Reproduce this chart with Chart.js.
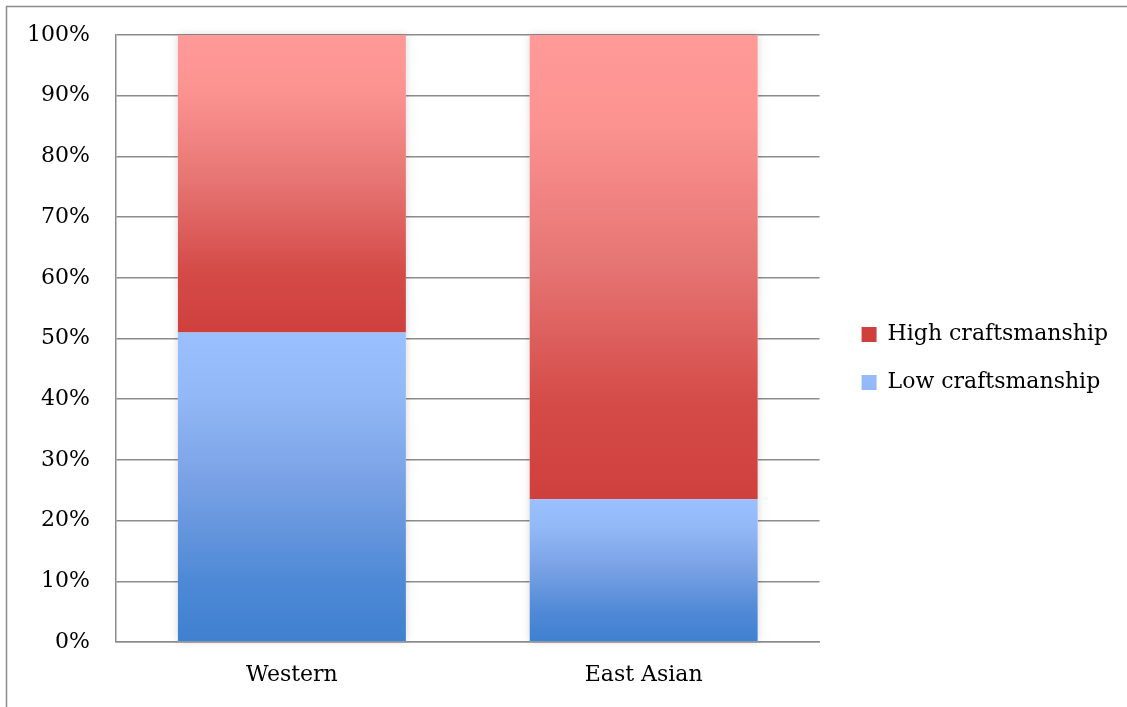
<!DOCTYPE html>
<html>
<head>
<meta charset="utf-8">
<script src="https://cdn.jsdelivr.net/npm/chart.js@4.4.0/dist/chart.umd.min.js"></script>
<style>
  html, body { margin: 0; padding: 0; background: #fff; }
  #wrap { width: 1127px; height: 707px; }
</style>
</head>
<body>
<div id="wrap"><canvas id="chart" width="1127" height="707"></canvas></div>
<script>
// data (percent of each group)
const categories = ["Western", "East Asian"];
const lowCraft = [51, 23.5];
const highCraft = [49, 76.5];
const seriesNames = ["Low craftsmanship", "High craftsmanship"];

const lowStops = [[0, "#9ac0ff"], [0.2, "#93b8f6"], [0.5, "#77a0e4"], [0.8, "#4e89d6"], [1, "#3f80cf"]];
const highStops = [[0, "#ff9a98"], [0.2, "#fb9290"], [0.5, "#e57472"], [0.8, "#d44a47"], [1, "#cf403d"]];

const FONT = "'DejaVu Serif', serif";
const GRID = "#8c8c8c";

// vertical gradient that spans one stacked segment
function segmentGradient(ctx, stops, fallback) {
  const chart = ctx.chart;
  if (ctx.type !== "data" || !chart.chartArea) return fallback;
  const ys = chart.scales.y;
  const i = ctx.dataIndex;
  const lo = ctx.datasetIndex === 0 ? 0 : lowCraft[i];
  const hi = ctx.datasetIndex === 0 ? lowCraft[i] : lowCraft[i] + highCraft[i];
  const g = chart.ctx.createLinearGradient(0, ys.getPixelForValue(hi), 0, ys.getPixelForValue(lo));
  stops.forEach(([p, c]) => g.addColorStop(p, c));
  return g;
}

// outer frame like the original (left + top edge only visible)
const frame = {
  id: "frame",
  beforeDraw(chart) {
    const c = chart.ctx;
    c.save();
    c.fillStyle = "#fff";
    c.fillRect(0, 0, chart.width, chart.height);
    c.strokeStyle = GRID;
    c.lineWidth = 1.5;
    c.beginPath();
    c.moveTo(6.5, chart.height);
    c.lineTo(6.5, 6.5);
    c.lineTo(chart.width, 6.5);
    c.stroke();
    c.restore();
  }
};

// soft shadow behind each full bar
const barShadow = {
  id: "barShadow",
  beforeDatasetsDraw(chart) {
    const low = chart.getDatasetMeta(0).data;
    const high = chart.getDatasetMeta(1).data;
    const c = chart.ctx;
    c.save();
    c.shadowColor = "rgba(0,0,0,0.16)";
    c.shadowBlur = 8;
    c.fillStyle = "#fff";
    low.forEach((el, i) => {
      const p = el.getProps(["x", "width", "base"], true);
      const top = high[i].getProps(["y"], true).y;
      c.fillRect(p.x - p.width / 2, top, p.width, p.base - top);
    });
    c.restore();
  }
};

// move the legend to where it sits in the original and give its boxes gradients
const legendNudge = {
  id: "legendNudge",
  afterLayout(chart) {
    const lg = chart.legend;
    const dx = 16, dy = -3;
    lg.left += dx; lg.right += dx; lg.top += dy; lg.bottom += dy;
    lg.legendHitBoxes.forEach((hb, i) => {
      hb.left += dx; hb.top += dy;
      const item = lg.legendItems[i];
      const stops = item.datasetIndex === 0 ? lowStops : highStops;
      const g = chart.ctx.createLinearGradient(0, hb.top + 3.5, 0, hb.top + 18.5);
      stops.forEach(([p, c]) => g.addColorStop(p, c));
      item.fillStyle = g;
      item.strokeStyle = "rgba(0,0,0,0)";
      item.lineWidth = 0;
    });
  }
};

new Chart(document.getElementById("chart"), {
  type: "bar",
  data: {
    labels: categories,
    datasets: [
      {
        label: seriesNames[0],
        data: lowCraft,
        backgroundColor: (ctx) => segmentGradient(ctx, lowStops, "#6b9de8"),
        borderWidth: 0,
        categoryPercentage: 0.8,
        barPercentage: 0.81
      },
      {
        label: seriesNames[1],
        data: highCraft,
        backgroundColor: (ctx) => segmentGradient(ctx, highStops, "#e06a66"),
        borderWidth: 0,
        categoryPercentage: 0.8,
        barPercentage: 0.81
      }
    ]
  },
  options: {
    responsive: false,
    animation: false,
    devicePixelRatio: 1,
    layout: { padding: { top: 35, left: 27, right: 25, bottom: 19 } },
    plugins: {
      legend: {
        position: "right",
        reverse: true,
        maxWidth: 300,
        labels: {
          boxWidth: 15,
          boxHeight: 15,
          padding: 26,
          color: "#000",
          font: { family: FONT, size: 22 }
        }
      },
      tooltip: { enabled: false }
    },
    scales: {
      x: {
        stacked: true,
        grid: { display: false, drawTicks: false },
        border: { display: true, color: GRID, width: 1.5 },
        ticks: { color: "#000", padding: 20, font: { family: FONT, size: 22 } },
        afterFit: (s) => { s.height = 46; }
      },
      y: {
        stacked: true,
        min: 0,
        max: 100,
        grid: { color: GRID, lineWidth: 1.5, drawTicks: false },
        border: { display: true, color: GRID, width: 1.5 },
        ticks: {
          stepSize: 10,
          color: "#000",
          padding: 26,
          font: { family: FONT, size: 22 },
          callback: (v) => v + "%"
        },
        afterFit: (s) => { s.width = 89; s.paddingTop = 0; s.paddingBottom = 0; }
      }
    }
  },
  plugins: [frame, barShadow, legendNudge]
});
</script>
</body>
</html>
